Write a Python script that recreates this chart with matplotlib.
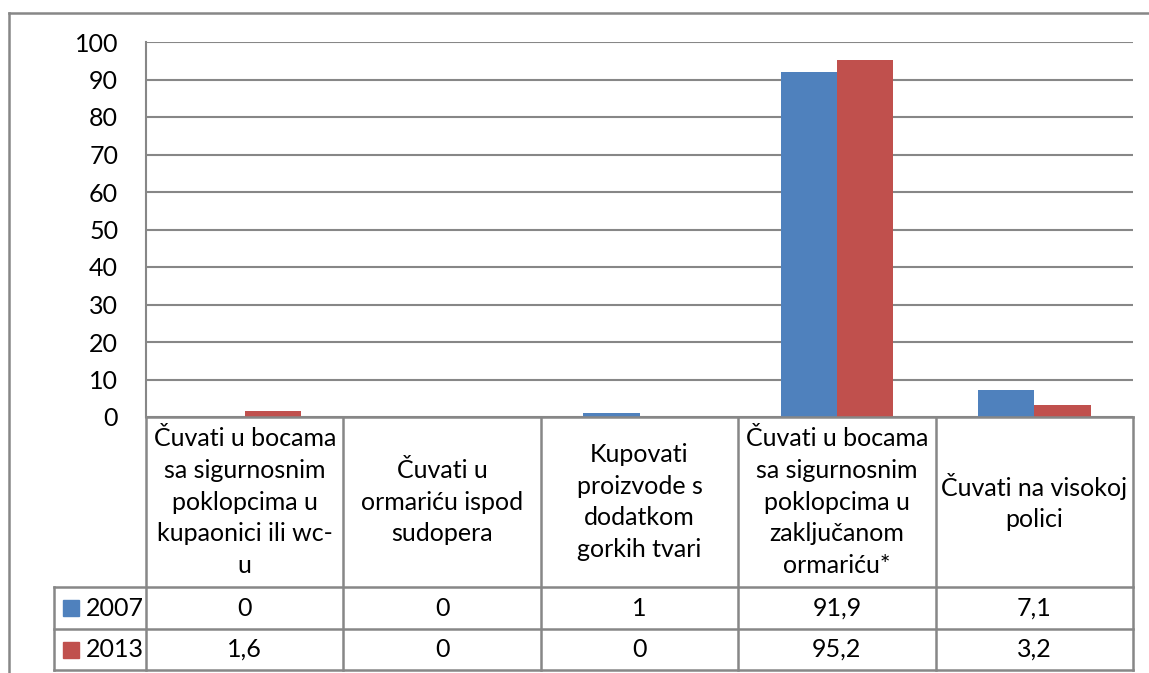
"""
Stupčasti grafikon s tablicom podataka (2007 vs 2013) — preslika Excel grafikona.
"""

import matplotlib
matplotlib.use("Agg")
import matplotlib.pyplot as plt
from matplotlib.lines import Line2D
from matplotlib.patches import Rectangle
import numpy as np

# ---- Podaci ----------------------------------------------------------------
KATEGORIJE = [
    "Čuvati u bocama\nsa sigurnosnim\npoklopcima u\nkupaonici ili wc-\nu",
    "Čuvati u\normariću ispod\nsudopera",
    "Kupovati\nproizvode s\ndodatkom\ngorkih tvari",
    "Čuvati u bocama\nsa sigurnosnim\npoklopcima u\nzaključanom\normariću*",
    "Čuvati na visokoj\npolici",
]
GODINE = ["2007", "2013"]
V_2007 = [0, 0, 1, 91.9, 7.1]
V_2013 = [1.6, 0, 0, 95.2, 3.2]
Y_TICKS = [0, 10, 20, 30, 40, 50, 60, 70, 80, 90, 100]

PLAVA = "#4F81BD"
CRVENA = "#C0504D"
SIVA = "#878787"
FONT = "Lato"
FS = 18

W, H = 1149, 673
fig = plt.figure(figsize=(W / 100, H / 100), dpi=100)
plt.rcParams["font.family"] = [FONT, "DejaVu Sans"]


def fx(px):
    return px / W


def fy(py):
    return 1 - py / H


# ---- Područje crtanja --------------------------------------------------------
L, R, T, B = 146, 1133, 42, 417
ax = fig.add_axes([fx(L), fy(B), fx(R - L), fy(T) - fy(B)])
n = len(KATEGORIJE)
x = np.arange(n)
sirina = 1 / 3.5
ax.bar(x - sirina / 2, V_2007, sirina, color=PLAVA, zorder=3)
ax.bar(x + sirina / 2, V_2013, sirina, color=CRVENA, zorder=3)
ax.set_xlim(-0.5, n - 0.5)
ax.set_ylim(0, 100)
ax.set_yticks(Y_TICKS)
ax.set_yticklabels([str(t) for t in Y_TICKS], fontsize=FS, family=FONT)
ax.tick_params(axis="y", length=0, pad=20)
ax.tick_params(axis="x", length=0, labelbottom=False)
ax.yaxis.grid(True, color=SIVA, lw=1.5, zorder=0)
for s in ["top", "right", "bottom"]:
    ax.spines[s].set_visible(False)
ax.spines["left"].set_color(SIVA)
ax.spines["left"].set_linewidth(1.5)
ax.patch.set_alpha(0)

# ---- Tablica podataka ------------------------------------------------------
ov = fig.add_axes([0, 0, 1, 1])
ov.set_xlim(0, W)
ov.set_ylim(H, 0)
ov.axis("off")
ov.patch.set_alpha(0)

kol = [L + i * (R - L) / n for i in range(n + 1)]
LAB_L = 54
ZAGLAVLJE = 587
RED = [ZAGLAVLJE, 629, 670]

lc = dict(color=SIVA, lw=1.8)
# vodoravne crte
ov.add_line(Line2D([L, R], [B, B], **lc))
for yy in RED:
    ov.add_line(Line2D([LAB_L, R], [yy, yy], **lc))
# okomite crte
for xx in kol:
    ov.add_line(Line2D([xx, xx], [B, RED[-1]], **lc))
ov.add_line(Line2D([LAB_L, LAB_L], [RED[0], RED[-1]], **lc))

for i, kat in enumerate(KATEGORIJE):
    cx = (kol[i] + kol[i + 1]) / 2
    ov.text(cx, (B + ZAGLAVLJE) / 2, kat, ha="center", va="center",
            fontsize=FS, family=FONT, linespacing=1.45)

for r, (god, vals, boja) in enumerate(zip(GODINE, [V_2007, V_2013],
                                           [PLAVA, CRVENA])):
    cy = (RED[r] + RED[r + 1]) / 2
    ov.add_patch(Rectangle((63, cy - 8), 16, 16, color=boja))
    ov.text(86, cy, god, ha="left", va="center", fontsize=FS, family=FONT)
    for i, v in enumerate(vals):
        cx = (kol[i] + kol[i + 1]) / 2
        txt = f"{v:g}".replace(".", ",")
        ov.text(cx, cy, txt, ha="center", va="center", fontsize=FS,
                family=FONT)

# ---- Okvir grafikona -------------------------------------------------------
ov.add_line(Line2D([9, W], [12.5, 12.5], color=SIVA, lw=1.8))
ov.add_line(Line2D([9, 9], [12.5, H], color=SIVA, lw=1.8))

fig.savefig("out.png", dpi=100)
